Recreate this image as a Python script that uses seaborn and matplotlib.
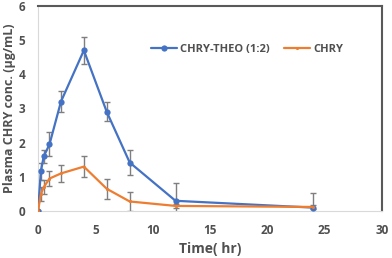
import numpy as np
import pandas as pd
import matplotlib
matplotlib.use('Agg')
import matplotlib.pyplot as plt
import seaborn as sns

time_hr = [0, 0.25, 0.5, 1, 2, 4, 6, 8, 12, 24]
theo_conc = [0, 1.17, 1.6, 1.95, 3.2, 4.7, 2.9, 1.42, 0.3, 0.1]
theo_err = [0, 0.25, 0.2, 0.35, 0.3, 0.4, 0.28, 0.38, 0.52, 0.42]
chry_conc = [0, 0.5, 0.7, 0.95, 1.1, 1.3, 0.65, 0.28, 0.15, 0.12]
chry_err = [0, 0.2, 0.2, 0.22, 0.25, 0.3, 0.3, 0.27, 0.05, 0.05]

sns.set_style('white')
plt.rcParams['font.family'] = ['Open Sans', 'DejaVu Sans']

df = pd.DataFrame({
    'time': time_hr * 2,
    'conc': theo_conc + chry_conc,
    'group': ['CHRY-THEO (1:2)'] * len(time_hr) + ['CHRY'] * len(time_hr),
})

fig = plt.figure(figsize=(3.92, 2.58), dpi=100)
ax = fig.add_axes([0.097, 0.182, 0.877, 0.795])

blue = '#4472c4'
orange = '#ed7d31'
grey = '#7f7f7f'
txt = '#505050'

ax.errorbar(time_hr, theo_conc, yerr=theo_err, fmt='none', ecolor=grey,
            elinewidth=1, capsize=2.5, capthick=1, zorder=1)
ax.errorbar(time_hr, chry_conc, yerr=chry_err, fmt='none', ecolor=grey,
            elinewidth=1, capsize=2.5, capthick=1, zorder=1)

sns.lineplot(data=df, x='time', y='conc', hue='group', style='group',
             palette={'CHRY-THEO (1:2)': blue, 'CHRY': orange},
             markers={'CHRY-THEO (1:2)': 'o', 'CHRY': '.'},
             dashes=False, markersize=4.5, markeredgewidth=0,
             linewidth=1.6, ax=ax, zorder=3)

ax.set_xlim(0, 30)
ax.set_ylim(0, 6)
ax.set_xticks([0, 5, 10, 15, 20, 25, 30])
ax.set_yticks([0, 1, 2, 3, 4, 5, 6])
ax.tick_params(axis='both', length=0, labelsize=8.5, labelcolor=txt)
ax.tick_params(axis='x', pad=9)
ax.tick_params(axis='y', pad=9)
for lab in ax.get_xticklabels() + ax.get_yticklabels():
    lab.set_fontweight('bold')

ax.set_xlabel('Time( hr)', fontsize=10, fontweight='bold', color=txt, labelpad=4)
ax.set_ylabel('Plasma CHRY conc. (µg/mL)', fontsize=9, fontweight='bold',
              color=txt, labelpad=2)

ax.spines['top'].set_color('#595959')
ax.spines['right'].set_color('#595959')
ax.spines['top'].set_linewidth(1.5)
ax.spines['right'].set_linewidth(1.5)
ax.spines['left'].set_color('#d9d9d9')
ax.spines['bottom'].set_color('#d9d9d9')
ax.spines['left'].set_linewidth(0.8)
ax.spines['bottom'].set_linewidth(0.8)

leg = ax.legend(loc='center left', bbox_to_anchor=(0.30, 0.79), ncol=2,
                frameon=False, fontsize=8, handlelength=2.3,
                columnspacing=1.3, handletextpad=0.3)
for t in leg.get_texts():
    t.set_fontweight('bold')
    t.set_color(txt)

fig.savefig('out.png', dpi=100)
